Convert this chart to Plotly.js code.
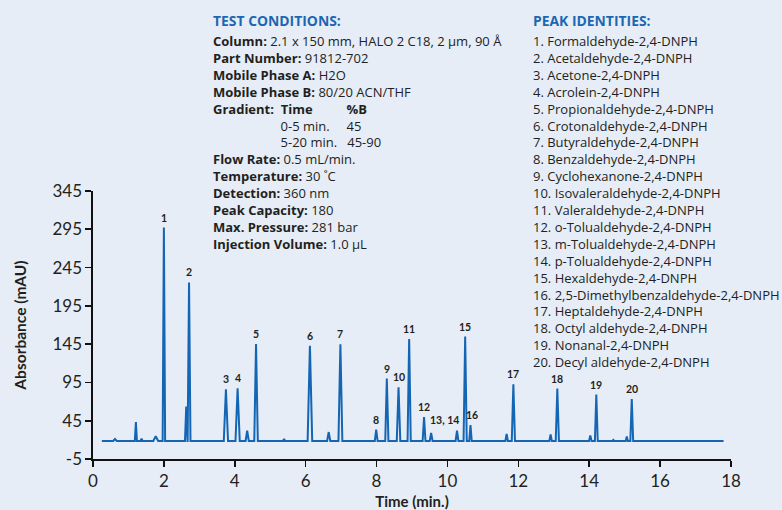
<!DOCTYPE html>
<html>
<head>
<meta charset="utf-8">
<script src="https://cdn.plot.ly/plotly-3.0.1.min.js"></script>
<style>
  html, body { margin: 0; padding: 0; background: #e6edf7; }
  #chart { width: 782px; height: 510px; }
</style>
</head>
<body>
<div id="chart"></div>
<script>
// Chromatogram of 20 aldehyde/ketone 2,4-DNPH derivatives (HALO 2 C18)

// Baseline of the trace (mAU) and the time span it covers (min)
const baselineLevel = 18.5;
const runStart = 0.25;
const runEnd = 17.79;

// Every peak on the trace: retention time (min), apex absorbance (mAU),
// half-width at the base (min) and its identity tag ("" for unlabelled peaks)
const peakTime = [0.62, 1.21, 1.37, 1.77, 2.00, 2.63, 2.71, 3.75, 4.08, 4.35,
                  4.60, 5.39, 6.12, 6.65, 6.98, 7.99, 8.29, 8.62, 8.92, 9.34,
                  9.54, 10.27, 10.50, 10.65, 11.67, 11.86, 12.91, 13.10, 14.03,
                  14.20, 14.68, 15.06, 15.20];
const peakHeight = [21.0, 43.2, 21.5, 24.8, 297.3, 63.5, 225.6, 86.2, 87.5, 31.9,
                    145.2, 20.5, 143.0, 30.2, 144.9, 33.2, 100.0, 88.8, 151.7, 49.7,
                    28.9, 31.9, 154.8, 39.3, 27.6, 92.7, 27.0, 87.0, 25.7,
                    79.2, 20.0, 24.4, 73.2];
const peakHalfWidth = [0.05, 0.03, 0.03, 0.07, 0.035, 0.035, 0.04, 0.06, 0.06, 0.045,
                       0.05, 0.04, 0.065, 0.045, 0.055, 0.04, 0.045, 0.05, 0.045, 0.04,
                       0.04, 0.04, 0.045, 0.035, 0.035, 0.045, 0.035, 0.045, 0.035,
                       0.04, 0.03, 0.03, 0.04];
const peakTag = ["", "", "", "", "1", "", "2", "3", "4", "",
                 "5", "", "6", "", "7", "8", "9", "10", "11", "12",
                 "13", "14", "15", "16", "", "17", "", "18", "",
                 "19", "", "", "20"];

// Axis ticks
const xTicks = [0, 2, 4, 6, 8, 10, 12, 14, 16, 18];
const yTicks = [-5, 45, 95, 145, 195, 245, 295, 345];

// Test conditions: [bold label, value]
const conditionsTop = [
  ["Column:", "2.1 x 150 mm, HALO 2 C18, 2 µm, 90 Å"],
  ["Part Number:", "91812-702"],
  ["Mobile Phase A:", "H2O"],
  ["Mobile Phase B:", "80/20 ACN/THF"]
];
const gradientHeader = ["Gradient:", "Time", "%B"];
const gradientTime = ["0-5 min.", "5-20 min."];
const gradientB = ["45", "45-90"];
const conditionsBottom = [
  ["Flow Rate:", "0.5 mL/min."],
  ["Temperature:", "30 ˚C"],
  ["Detection:", "360 nm"],
  ["Peak Capacity:", "180"],
  ["Max. Pressure:", "281 bar"],
  ["Injection Volume:", "1.0 µL"]
];

// Peak identities
const peakNames = [
  "Formaldehyde-2,4-DNPH", "Acetaldehyde-2,4-DNPH", "Acetone-2,4-DNPH",
  "Acrolein-2,4-DNPH", "Propionaldehyde-2,4-DNPH", "Crotonaldehyde-2,4-DNPH",
  "Butyraldehyde-2,4-DNPH", "Benzaldehyde-2,4-DNPH", "Cyclohexanone-2,4-DNPH",
  "Isovaleraldehyde-2,4-DNPH", "Valeraldehyde-2,4-DNPH", "o-Tolualdehyde-2,4-DNPH",
  "m-Tolualdehyde-2,4-DNPH", "p-Tolualdehyde-2,4-DNPH", "Hexaldehyde-2,4-DNPH",
  "2,5-Dimethylbenzaldehyde-2,4-DNPH", "Heptaldehyde-2,4-DNPH",
  "Octyl aldehyde-2,4-DNPH", "Nonanal-2,4-DNPH", "Decyl aldehyde-2,4-DNPH"
];

// ---- build the trace: each peak is a sharp rise from the baseline to its apex
const traceX = [runStart];
const traceY = [baselineLevel];
peakTime.forEach((t, i) => {
  const w = peakHalfWidth[i];
  traceX.push(t - w, t, t + w);
  traceY.push(baselineLevel, peakHeight[i], baselineLevel);
});
traceX.push(runEnd);
traceY.push(baselineLevel);

// ---- page geometry
const W = 782, H = 510;
const M = { l: 93, r: 51, t: 191, b: 51 };
const PW = W - M.l - M.r, PH = H - M.t - M.b;
const px = x => (x - M.l) / PW;            // page pixel -> paper x
const py = y => (H - M.b - y) / PH;        // page pixel -> paper y

const FONT = "Lato, 'Open Sans', sans-serif";
const TEXT_FONT = "'Open Sans', Lato, sans-serif";
const TEXT_SIZE = 13;                      // 1.3 em line pitch = 16.9 px
const INK = "#231f20";
const BLUE = "#1b67b2";
const BG = "#e6edf7";

// measure text so the gradient table columns line up inside the block
const ctx = document.createElement("canvas").getContext("2d");
const measure = (s, bold) => {
  ctx.font = (bold ? "bold " : "") + TEXT_SIZE + "px 'Open Sans'";
  return ctx.measureText(s).width;
};
const NBSP = "\u00A0";
const nbspW = measure(NBSP, false);
const padTo = (used, target) => NBSP.repeat(Math.max(1, Math.round((target - used) / nbspW)));

const COL_TIME = 67, COL_B = 135;          // column offsets from the block's left edge
const gradRows = [];
{
  let used = measure(gradientHeader[0], true);
  let pad1 = padTo(used, COL_TIME);
  used += pad1.length * nbspW + measure(gradientHeader[1], true);
  let pad2 = padTo(used, COL_B);
  gradRows.push("<b>" + gradientHeader[0] + "</b>" + pad1 + "<b>" + gradientHeader[1] + "</b>" + pad2 + "<b>" + gradientHeader[2] + "</b>");
  gradientTime.forEach((s, i) => {
    const lead = padTo(0, COL_TIME);
    let u = lead.length * nbspW + measure(s, false);
    gradRows.push(lead + s + padTo(u, COL_B) + gradientB[i]);
  });
}
const pair = ([k, v]) => "<b>" + k + "</b> " + v;
const conditionText = [].concat(conditionsTop.map(pair), gradRows, conditionsBottom.map(pair)).join("<br>");
const identityText = peakNames.map((s, i) => (i + 1) + ". " + s).join("<br>");

const LINE0 = 41, STEP = 16.9;
const blockCenter = n => LINE0 + STEP * (n - 1) / 2;
const annotations = [
  { text: "<b>TEST CONDITIONS:</b>", x: px(211), y: py(20), size: 13.9, color: BLUE },
  { text: "<b>PEAK IDENTITIES:</b>", x: px(531), y: py(20), size: 13.9, color: BLUE },
  { text: conditionText, x: px(211), y: py(blockCenter(13)), size: TEXT_SIZE, color: INK },
  { text: identityText, x: px(531), y: py(blockCenter(20)), size: TEXT_SIZE, color: INK }
].map(a => ({
  xref: "paper", yref: "paper", x: a.x, y: a.y, text: a.text,
  showarrow: false, xanchor: "left", yanchor: "middle", align: "left",
  font: { family: TEXT_FONT, size: a.size, color: a.color }
}));

// peak number labels above the apexes
const labelFont = { family: FONT, size: 10.5, color: INK };
const tagIndex = tag => peakTag.indexOf(tag);
peakTag.forEach((tag, i) => {
  if (!tag || tag === "13" || tag === "14") return;
  annotations.push({
    x: peakTime[i], y: peakHeight[i], xref: "x", yref: "y",
    text: "<b>" + tag + "</b>", showarrow: false,
    xanchor: "center", yanchor: "bottom", yshift: 2,
    xshift: tag === "16" ? 2 : 0,
    font: labelFont
  });
});
// peaks 13 and 14 share one label
const i13 = tagIndex("13"), i14 = tagIndex("14");
annotations.push({
  x: (peakTime[i13] + peakTime[i14]) / 2,
  y: Math.max(peakHeight[i13], peakHeight[i14]),
  xref: "x", yref: "y", text: "<b>13, 14</b>", showarrow: false,
  xanchor: "center", yanchor: "bottom", yshift: 3, font: labelFont
});

const axisStyle = {
  showgrid: false, zeroline: false, showline: true,
  linecolor: "#111", linewidth: 1.6,
  ticks: "outside", ticklen: 6, tickwidth: 1.6, tickcolor: "#111",
  tickfont: { family: FONT, size: 17, color: INK },
  fixedrange: true
};

const data = [{
  x: traceX, y: traceY, type: "scatter", mode: "lines",
  line: { color: "#1565b5", width: 2 },
  hoverinfo: "skip"
}];

const layout = {
  width: W, height: H,
  margin: M,
  paper_bgcolor: BG, plot_bgcolor: BG,
  showlegend: false,
  font: { family: FONT, color: INK },
  xaxis: Object.assign({}, axisStyle, {
    range: [0, 18], tickvals: xTicks, ticktext: xTicks.map(String),
    title: { text: "<b>Time (min.)</b>", font: { family: FONT, size: 15, color: INK }, standoff: 10 }
  }),
  yaxis: Object.assign({}, axisStyle, {
    range: [-5, 345], tickvals: yTicks, ticktext: yTicks.map(String),
    title: { text: "<b>Absorbance (mAU)</b>", font: { family: FONT, size: 15.5, color: INK }, standoff: 22 }
  }),
  annotations: annotations
};

Plotly.newPlot("chart", data, layout, { displayModeBar: false, staticPlot: true });
</script>
</body>
</html>
